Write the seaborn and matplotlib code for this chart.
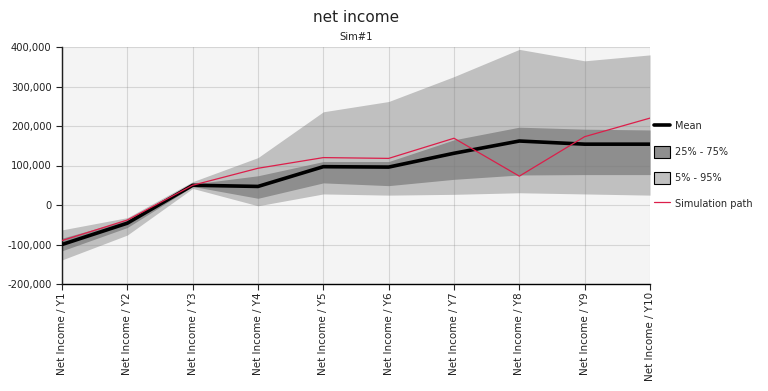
import numpy as np
import pandas as pd
import matplotlib
matplotlib.use("Agg")
import matplotlib.pyplot as plt
import seaborn as sns
from matplotlib.patches import Patch
from matplotlib.lines import Line2D
from matplotlib.ticker import FuncFormatter

categories = [f"Net Income / Y{i}" for i in range(1, 11)]
mean_vals = [-100000, -46000, 50000, 47000, 97000, 96000, 131000, 162000, 154000, 154000]
sim_path = [-90000, -38000, 50000, 93000, 120000, 118000, 169000, 73000, 173000, 220000]
p5 = [-139000, -76000, 42000, -2000, 28000, 25000, 27000, 31000, 28000, 25000]
p95 = [-63000, -32000, 59000, 120000, 236000, 262000, 325000, 394000, 365000, 380000]
p25 = [-116000, -57000, 47000, 17000, 56000, 49000, 65000, 76000, 77000, 77000]
p75 = [-84000, -38000, 53000, 74000, 110000, 110000, 165000, 197000, 192000, 190000]

df = pd.DataFrame({"cat": categories, "x": np.arange(len(categories)),
                   "mean": mean_vals, "sim": sim_path,
                   "p5": p5, "p95": p95, "p25": p25, "p75": p75})

sns.set_style("white")
plt.rcParams['font.family'] = ['DejaVu Sans']

fig = plt.figure(figsize=(7.68, 3.91), dpi=100)
ax = fig.add_axes([62/768, 1-284/391, (650-62)/768, (284-47)/391])
ax.set_facecolor("#f4f4f4")

ax.fill_between(df["x"], df["p5"], df["p95"], color="#c0c0c0", lw=0, zorder=1)
ax.fill_between(df["x"], df["p25"], df["p75"], color="#8e8e8e", lw=0, zorder=2)

sns.lineplot(data=df, x="x", y="mean", color="black", lw=2.6, ax=ax, zorder=4)
sns.lineplot(data=df, x="x", y="sim", color="#dc1e4a", lw=0.9, ax=ax, zorder=5)

ax.set_xlim(0, 9)
ax.set_ylim(-200000, 400000)
ax.set_xticks(df["x"])
ax.set_xticklabels(categories, rotation=90, fontsize=7.5, color="#222222")
ax.set_yticks(np.arange(-200000, 400001, 100000))
ax.yaxis.set_major_formatter(FuncFormatter(lambda v, p: f"{int(v):,}"))
ax.tick_params(axis="y", labelsize=7.2, colors="#222222", length=4, direction="out", left=True)
ax.tick_params(axis="x", length=4, direction="out", bottom=True, pad=2)
ax.set_xlabel("")
ax.set_ylabel("")
ax.grid(True, color="#7a7a7a", alpha=0.25, lw=0.8, zorder=3)
ax.set_axisbelow(False)
for s in ["top", "right"]:
    ax.spines[s].set_visible(False)
for s in ["left", "bottom"]:
    ax.spines[s].set_color("black")
    ax.spines[s].set_linewidth(1.0)

fig.text(356/768, 1-18/391, "net income", ha="center", va="center", fontsize=11, color="#222222")
fig.text(356/768, 1-37/391, "Sim#1", ha="center", va="center", fontsize=7.2, color="#222222")

handles = [
    Line2D([0], [0], color="black", lw=2.6),
    Patch(facecolor="#8e8e8e", edgecolor="black", lw=0.8),
    Patch(facecolor="#c0c0c0", edgecolor="black", lw=0.8),
    Line2D([0], [0], color="#dc1e4a", lw=0.9),
]
labels = ["Mean", "25% - 75%", "5% - 95%", "Simulation path"]
fig.legend(handles, labels, loc="upper left", bbox_to_anchor=(654/768, 1-120/391),
           frameon=False, fontsize=7.0, handlelength=1.6, handleheight=1.6,
           labelspacing=1.38, handletextpad=0.6, borderaxespad=0, borderpad=0)

fig.savefig("out.png", dpi=100)
